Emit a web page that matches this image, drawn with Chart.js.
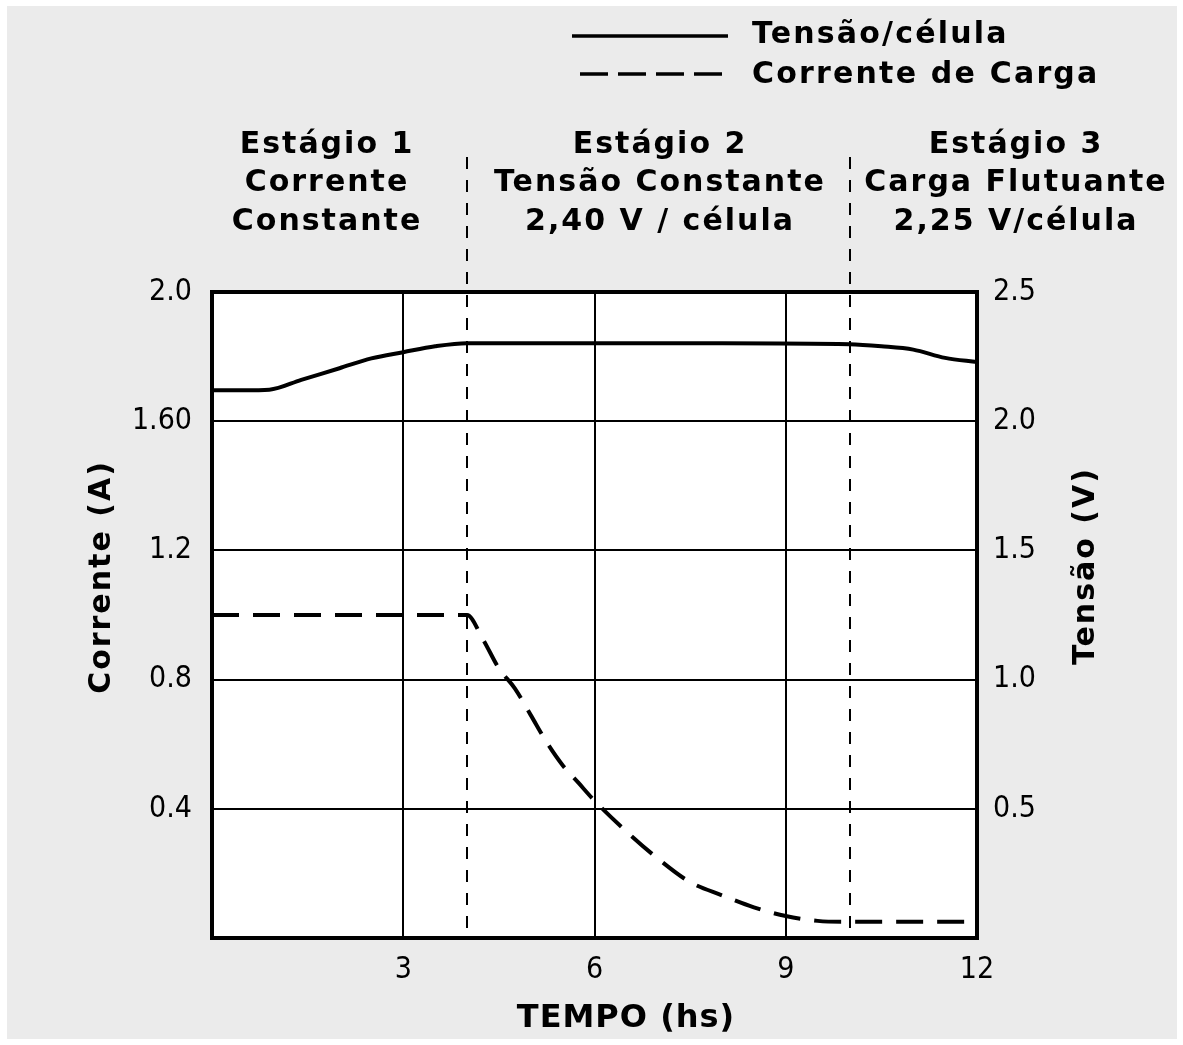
<!DOCTYPE html>
<html>
<head>
<meta charset="utf-8">
<script src="https://cdn.jsdelivr.net/npm/chart.js@4/dist/chart.umd.min.js"></script>
<style>
  html, body { margin: 0; padding: 0; background: #fff; }
  #grafico { display: block; }
</style>
</head>
<body>
<canvas id="grafico" width="1183" height="1045"></canvas>
<script>
// tensão por célula (eixo direito, V)
const tensaoTempo = [0, 0.5, 0.9, 1.4, 2.0, 2.5, 3.0, 3.5, 4.0, 6, 8, 10, 10.5, 11, 11.5, 12];
const tensaoValores = [2.12, 2.12, 2.122, 2.16, 2.205, 2.243, 2.267, 2.29, 2.302, 2.302, 2.302, 2.298, 2.29, 2.277, 2.245, 2.229];

// corrente de carga (eixo esquerdo, A)
const correnteTempo = [0, 4, 4.25, 4.5, 4.75, 5, 5.25, 5.5, 5.75, 6, 6.5, 7, 7.5, 8, 8.5, 9, 9.5, 10, 12];
const correnteValores = [1.0, 1.0, 0.925, 0.835, 0.773, 0.69, 0.606, 0.535, 0.48, 0.425, 0.33, 0.245, 0.173, 0.132, 0.095, 0.068, 0.053, 0.05, 0.05];

// rótulos dos eixos
const rotulosX = ['', '3', '6', '9', '12'];
const rotulosCorrente = ['', '0.4', '0.8', '1.2', '1.60', '2.0'];
const rotulosTensao = ['', '0.5', '1.0', '1.5', '2.0', '2.5'];

// estágios
const limitesEstagios = [4, 10];
const textosEstagios = [
  ['Estágio 1', 'Corrente', 'Constante'],
  ['Estágio 2', 'Tensão Constante', '2,40 V / célula'],
  ['Estágio 3', 'Carga Flutuante', '2,25 V/célula']
];
const legendaTextos = ['Tensão/célula', 'Corrente de Carga'];

const fonteTexto = 'bold 30px "DejaVu Sans", Verdana, sans-serif';
const fonteTicks = { family: '"Liberation Sans Narrow", "DejaVu Sans Condensed", "Arial Narrow", sans-serif', size: 30 };

const moldura = {
  id: 'moldura',
  beforeDraw(chart) {
    const ctx = chart.ctx;
    const a = chart.chartArea;
    ctx.save();
    ctx.fillStyle = '#ffffff';
    ctx.fillRect(0, 0, chart.width, chart.height);
    ctx.fillStyle = '#ebebeb';
    ctx.fillRect(7, 6, chart.width - 13, chart.height - 12);
    ctx.fillStyle = '#ffffff';
    ctx.fillRect(a.left, a.top, a.right - a.left, a.bottom - a.top);
    ctx.restore();
  },
  afterDatasetsDraw(chart) {
    const ctx = chart.ctx;
    const a = chart.chartArea;
    const x = chart.scales.x;
    ctx.save();
    // divisões dos estágios
    ctx.strokeStyle = '#000';
    ctx.lineWidth = 2;
    ctx.setLineDash([12, 11]);
    limitesEstagios.forEach(v => {
      const px = Math.round(x.getPixelForValue(v));
      ctx.beginPath();
      ctx.moveTo(px, 157);
      ctx.lineTo(px, a.bottom);
      ctx.stroke();
    });
    ctx.setLineDash([]);
    ctx.lineWidth = 4;
    ctx.strokeRect(a.left, a.top, a.right - a.left, a.bottom - a.top);
    ctx.restore();
  },
  afterDraw(chart) {
    const ctx = chart.ctx;
    ctx.save();
    ctx.fillStyle = '#000';
    ctx.font = fonteTexto;
    ctx.letterSpacing = '2px';
    ctx.textBaseline = 'middle';

    // cabeçalhos dos estágios
    const centros = [327, 660, 1016];
    ctx.textAlign = 'center';
    textosEstagios.forEach((linhas, i) => {
      linhas.forEach((t, j) => ctx.fillText(t, centros[i], 145 + j * 38.5));
    });

    // legenda
    ctx.textAlign = 'left';
    ctx.letterSpacing = '2.2px';
    ctx.fillText(legendaTextos[0], 752, 35);
    ctx.fillText(legendaTextos[1], 752, 75);
    ctx.strokeStyle = '#000';
    ctx.lineWidth = 3.5;
    ctx.beginPath();
    ctx.moveTo(572, 36);
    ctx.lineTo(728, 36);
    ctx.stroke();
    ctx.setLineDash([28, 10]);
    ctx.beginPath();
    ctx.moveTo(580, 74);
    ctx.lineTo(728, 74);
    ctx.stroke();
    ctx.setLineDash([]);

    // títulos dos eixos
    ctx.letterSpacing = '2px';
    ctx.textAlign = 'center';
    ctx.save();
    ctx.translate(102, 577);
    ctx.rotate(-Math.PI / 2);
    ctx.fillText('Corrente (A)', 0, 0);
    ctx.restore();
    ctx.save();
    ctx.translate(1086, 566);
    ctx.rotate(-Math.PI / 2);
    ctx.fillText('Tensão (V)', 0, 0);
    ctx.restore();

    ctx.letterSpacing = '1px';
    ctx.font = 'bold 32px "DejaVu Sans", Verdana, sans-serif';
    ctx.fillText('TEMPO (hs)', 626, 1019);
    ctx.restore();
  }
};

const ctx = document.getElementById('grafico').getContext('2d');
new Chart(ctx, {
  type: 'line',
  data: {
    datasets: [
      {
        label: legendaTextos[0],
        data: tensaoTempo.map((t, i) => ({ x: t, y: tensaoValores[i] })),
        yAxisID: 'yTensao',
        borderColor: '#000',
        borderWidth: 4,
        pointRadius: 0,
        cubicInterpolationMode: 'monotone',
        fill: false
      },
      {
        label: legendaTextos[1],
        data: correnteTempo.map((t, i) => ({ x: t, y: correnteValores[i] })),
        yAxisID: 'yCorrente',
        borderColor: '#000',
        borderWidth: 4,
        borderDash: [27, 14],
        pointRadius: 0,
        cubicInterpolationMode: 'monotone',
        fill: false
      }
    ]
  },
  options: {
    responsive: false,
    animation: false,
    layout: { padding: { top: 292, left: 0, right: 0, bottom: 0 } },
    plugins: {
      legend: { display: false },
      tooltip: { enabled: false }
    },
    scales: {
      x: {
        type: 'linear',
        min: 0,
        max: 12,
        afterFit: s => { s.height = 107; },
        border: { display: false },
        grid: { color: '#000', lineWidth: 2, drawTicks: false },
        ticks: {
          stepSize: 3,
          padding: 14,
          color: '#000',
          font: fonteTicks,
          maxRotation: 0,
          callback: (v, i) => rotulosX[i]
        }
      },
      yCorrente: {
        position: 'left',
        min: 0,
        max: 2,
        afterFit: s => { s.width = 212; },
        border: { display: false },
        grid: { color: '#000', lineWidth: 2, drawTicks: false },
        ticks: {
          stepSize: 0.4,
          padding: 20,
          color: '#000',
          font: fonteTicks,
          callback: (v, i) => rotulosCorrente[i]
        }
      },
      yTensao: {
        position: 'right',
        min: 0,
        max: 2.5,
        afterFit: s => { s.width = 206; },
        border: { display: false },
        grid: { display: false, drawTicks: false },
        ticks: {
          stepSize: 0.5,
          padding: 16,
          color: '#000',
          font: fonteTicks,
          callback: (v, i) => rotulosTensao[i]
        }
      }
    }
  },
  plugins: [moldura]
});
</script>
</body>
</html>
